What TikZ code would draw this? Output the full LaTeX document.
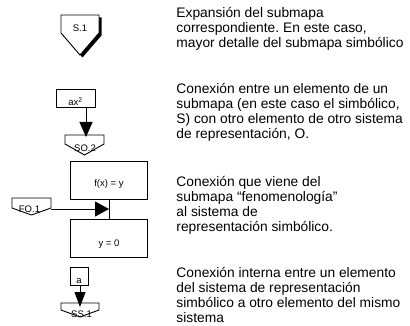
\documentclass[tikz,border=0pt]{standalone}
\usepackage{fontspec}
\setmainfont{Liberation Sans}
\usetikzlibrary{arrows.meta,positioning,shadows}
\frenchspacing

\begin{document}
\begin{tikzpicture}[x=1pt,y=-1pt,line width=0.9pt,
    box/.style={draw,rectangle,inner sep=0pt,font=\fontsize{9.5}{11}\selectfont,text depth=0pt},
    tag/.style={inner sep=0pt,anchor=base,font=\fontsize{9.5}{11}\selectfont},
    pent/.style={draw,fill=white,line join=miter},
    note/.style={anchor=north west,inner sep=0pt,align=left,font=\fontsize{13.8}{15}\selectfont},
    link/.style={-{Triangle[length=15pt,width=13pt]}}]
  \useasboundingbox (0,0) rectangle (410,326);
  % expansion: S.1
  \draw[pent,drop shadow={opacity=1,fill=black,shadow xshift=2.5pt,shadow yshift=-2.5pt}]
    (61,15) -- (99,15) -- (99,33) -- (80,55) -- (61,33) -- cycle;
  \node[tag] (s1) at (80,32) {S.1};
  \node[note] (t1) at (176,6.8) {Expansión del submapa\\correspondiente. En este caso,\\mayor detalle del submapa simbólico};
  % S -> O
  \node[box,minimum width=39pt,minimum height=18pt,text height=16pt] (ax) at (75.5,98) {ax\textsuperscript{2}};
  \draw[pent] (65,135) -- (104,135) -- (104,144) -- (84.5,155) -- (65,144) -- cycle;
  \node[tag] (so2) at (85,152) {SO.2};
  \coordinate (so2top) at (86,137);
  \draw[link] (ax.south -| so2top) -- (so2top);
  \node[note] (t2) at (176,83) {Conexión entre un elemento de un\\submapa (en este caso el simbólico,\\S) con otro elemento de otro sistema\\de representación, O.};
  % F -> S
  \node[box,minimum width=76.5pt,minimum height=38pt,text height=13pt] (fxy) at (109,180) {f(x) = y};
  \node[box,minimum width=76.5pt,minimum height=38pt,text height=17.4pt] (yzero) at (109,238) {y = 0};
  \draw (fxy.south) -- (yzero.north);
  \draw[pent] (12,198) -- (51,198) -- (51,208) -- (31.5,215) -- (12,208) -- cycle;
  \node[tag] (fo1) at (29.5,213) {FO.1};
  \coordinate (fo1out) at (51,209);
  \draw[-{Triangle[length=14pt,width=15pt]}] (fo1out) -- (fo1out -| fxy.south);
  \node[note] (t3) at (176,176) {Conexión que viene del\\submapa “fenomenología”\\al sistema de\\representación simbólico.};
  % S -> S
  \node[box,minimum width=18pt,minimum height=18pt,text height=14pt] (a) at (79,276) {a};
  \draw[pent] (61,303) -- (99,303) -- (99,310) -- (80,317) -- (61,310) -- cycle;
  \node[tag] (ss1) at (81.5,317.5) {SS.1};
  \coordinate (ss1top) at (80,307);
  \draw[-{Triangle[length=15pt,width=11pt]}] (a.south -| ss1top) -- (ss1top);
  \node[note] (t4) at (176,267) {Conexión interna entre un elemento\\del sistema de representación\\simbólico a otro elemento del mismo\\sistema};
\end{tikzpicture}
\end{document}
